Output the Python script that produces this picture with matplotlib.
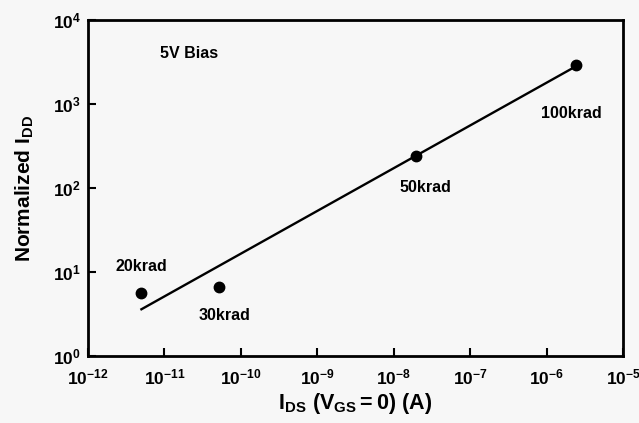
import numpy as np
import matplotlib
matplotlib.use("Agg")
import matplotlib.pyplot as plt

# data
doses = ["20krad", "30krad", "50krad", "100krad"]
ids = [4.9e-12, 5.2e-11, 1.95e-8, 2.45e-6]
idd_norm = [5.7, 6.7, 243, 2890]

# fitted line end points
fit_x = [5.0e-12, 2.4e-6]
fit_y = [3.6, 2800]

x_ticks = [1e-12, 1e-11, 1e-10, 1e-9, 1e-8, 1e-7, 1e-6, 1e-5]
x_exps = [-12, -11, -10, -9, -8, -7, -6, -5]
y_ticks = [1e0, 1e1, 1e2, 1e3, 1e4]
y_exps = [0, 1, 2, 3, 4]

# label placement (data coords)
label_pos = [(5.0e-12, 11.5), (6.2e-11, 3.0), (2.6e-8, 102), (2.1e-6, 765)]

plt.rcParams['font.family'] = ['Liberation Sans', 'DejaVu Sans']
plt.rcParams['font.weight'] = 'bold'
plt.rcParams['mathtext.fontset'] = 'custom'
plt.rcParams['mathtext.rm'] = 'Liberation Sans:bold'
plt.rcParams['mathtext.bf'] = 'Liberation Sans:bold'
plt.rcParams['mathtext.it'] = 'Liberation Sans:bold'

bg = '#f7f7f7'
fig = plt.figure(figsize=(6.39, 4.23), dpi=100, facecolor=bg)
ax = fig.add_axes([0.1377, 0.1584, 0.8373, 0.7943], facecolor=bg)

ax.plot(fit_x, fit_y, color='black', lw=1.7)
ax.plot(ids, idd_norm, 'o', color='black', ms=7.5)

for name, (lx, ly) in zip(doses, label_pos):
    ax.text(lx, ly, name, ha='center', va='center', fontsize=11.5, fontweight='bold')

ax.text(0.188, 0.9, '5V Bias', transform=ax.transAxes, ha='center', va='center',
        fontsize=11.5, fontweight='bold')

ax.set_xscale('log')
ax.set_yscale('log')
ax.set_xlim(1e-12, 1e-5)
ax.set_ylim(1, 1e4)
ax.set_xticks(x_ticks)
ax.set_xticklabels([r'$\mathbf{10^{%d}}$' % e for e in x_exps])
ax.set_yticks(y_ticks)
ax.set_yticklabels([r'$\mathbf{10^{%d}}$' % e for e in y_exps])
ax.minorticks_off()
ax.tick_params(direction='in', length=6, width=1.5, labelsize=12.5)
ax.tick_params(axis='x', pad=8)
ax.tick_params(axis='y', pad=5)

for s in ax.spines.values():
    s.set_linewidth(2)

ax.set_xlabel(r'$\mathbf{I_{DS}\ (V_{GS}=0)\ (A)}$', fontsize=15.5, labelpad=3)
ax.set_ylabel(r'$\mathbf{Normalized\ I_{DD}}$', fontsize=15, labelpad=12)

fig.savefig('out.png', dpi=100, facecolor=bg)
